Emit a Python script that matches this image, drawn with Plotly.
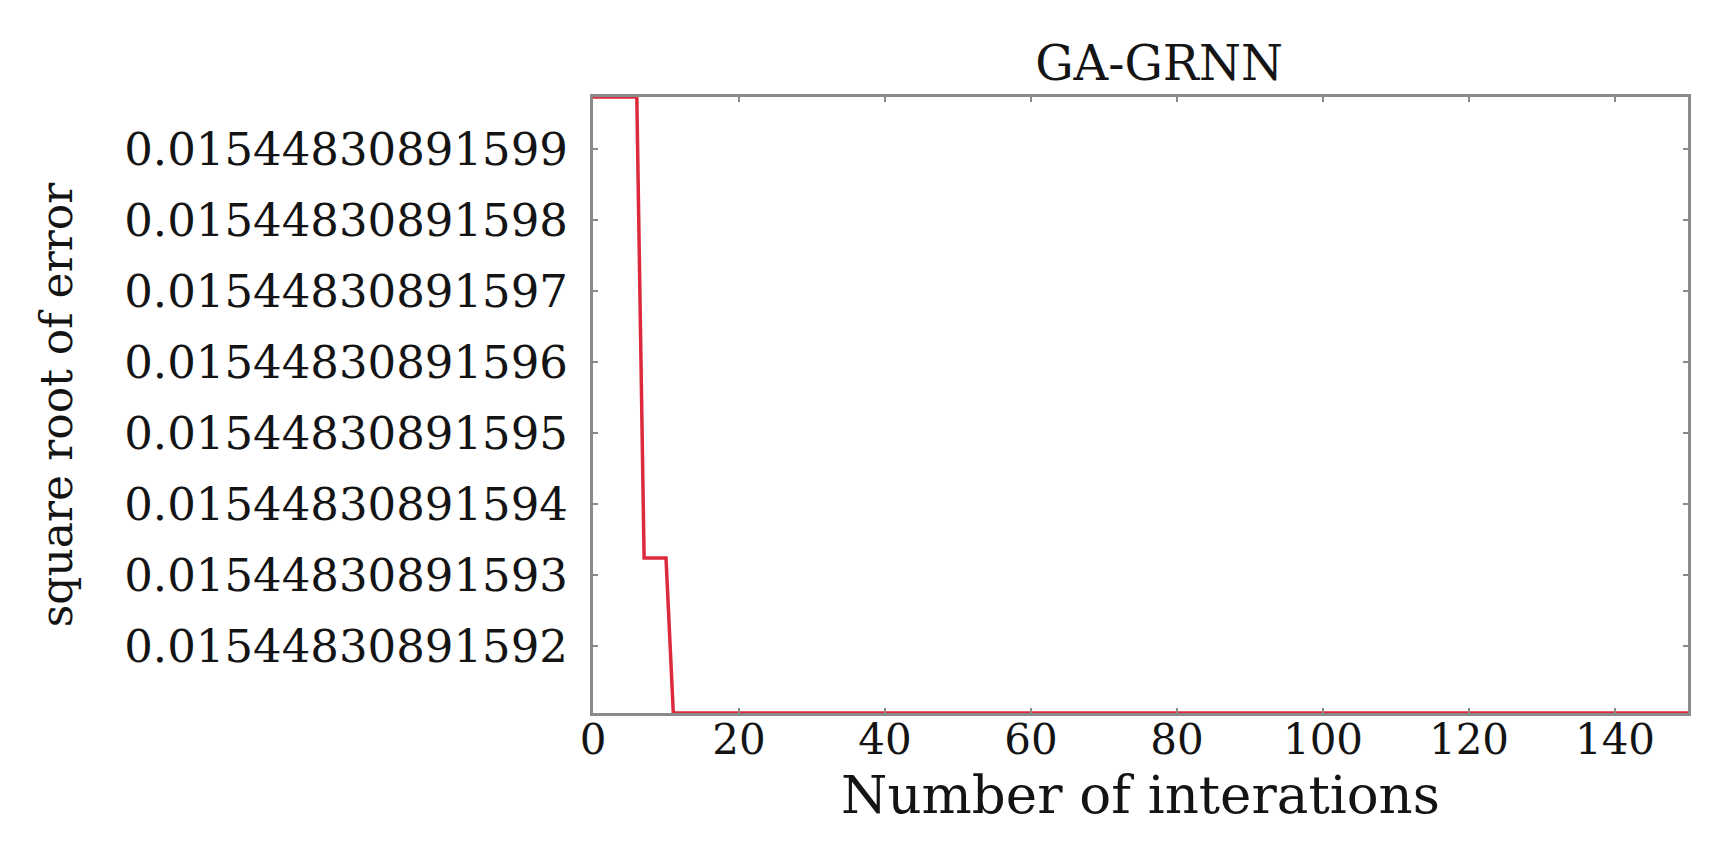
import plotly.graph_objects as go

# Data
iterations = list(range(0, 151))
level_start = 0.0154483089159973
level_mid = 0.0154483089159324
level_final = 0.0154483089159106
error_values = ([level_start] * 7) + ([level_mid] * 4) + ([level_final] * (151 - 11))

y_tick_vals = [0.01544830891592, 0.01544830891593, 0.01544830891594, 0.01544830891595,
               0.01544830891596, 0.01544830891597, 0.01544830891598, 0.01544830891599]
y_tick_text = ["0.01544830891592", "0.01544830891593", "0.01544830891594", "0.01544830891595",
               "0.01544830891596", "0.01544830891597", "0.01544830891598", "0.01544830891599"]
x_tick_vals = [0, 20, 40, 60, 80, 100, 120, 140]

FONT = "DejaVu Serif"
AXIS_COLOR = "#8a8a8a"
TEXT_COLOR = "#141414"

fig = go.Figure()
fig.add_trace(go.Scatter(
    x=iterations, y=error_values, mode="lines",
    line=dict(color="#dc2a3c", width=3.5), showlegend=False,
))

fig.update_layout(
    width=1730, height=841,
    margin=dict(l=585, r=50, t=89, b=136),
    paper_bgcolor="white", plot_bgcolor="white",
    title=dict(text="GA-GRNN", x=0.517, xref="paper", y=1 - 55 / 841, yref="container",
               yanchor="middle", xanchor="center",
               font=dict(family=FONT, size=48, color=TEXT_COLOR)),
    font=dict(family=FONT, color=TEXT_COLOR),
)

fig.update_xaxes(
    range=[0, 150], tickmode="array", tickvals=x_tick_vals,
    showline=True, linecolor=AXIS_COLOR, linewidth=3, mirror="allticks",
    ticks="inside", ticklen=5, tickwidth=2, tickcolor=AXIS_COLOR,
    showgrid=False, zeroline=False,
    tickfont=dict(family=FONT, size=42, color=TEXT_COLOR),
    ticklabelstandoff=-12,
    title=dict(text="Number of interations", font=dict(family=FONT, size=53, color=TEXT_COLOR),
               standoff=0),
)

fig.update_yaxes(
    range=[level_final, level_start], tickmode="array", tickvals=y_tick_vals, ticktext=y_tick_text,
    showline=True, linecolor=AXIS_COLOR, linewidth=3, mirror="allticks",
    ticks="inside", ticklen=5, tickwidth=2, tickcolor=AXIS_COLOR,
    showgrid=False, zeroline=False,
    tickfont=dict(family=FONT, size=45, color=TEXT_COLOR),
    ticklabelstandoff=13,
    title=dict(text="square root of error", font=dict(family=FONT, size=44, color=TEXT_COLOR),
               standoff=38),
)

fig.write_html("out.html")
